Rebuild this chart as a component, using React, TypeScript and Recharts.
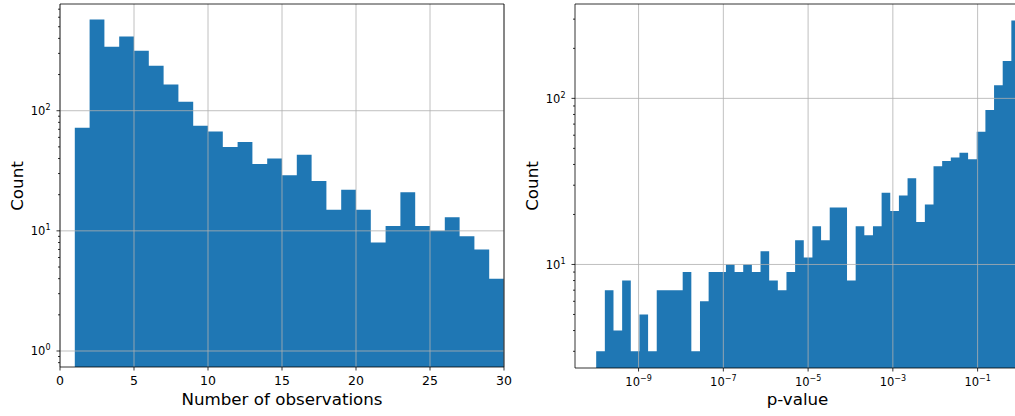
import { ComposedChart, Area, XAxis, YAxis, CartesianGrid, ReferenceArea } from "recharts";

const FONT = "'DejaVu Sans', sans-serif";
const BLUE = "#1f77b4";
const GRID = "#b0b0b0";

// left panel: number of observations, unit-width bins from 1 to 30
const obsEdges = [1, 2, 3, 4, 5, 6, 7, 8, 9, 10, 11, 12, 13, 14, 15, 16, 17, 18, 19, 20, 21, 22, 23, 24, 25, 26, 27, 28, 29, 30];
const obsCounts = [72, 573, 341, 414, 316, 237, 165, 119, 75, 67, 50, 55, 36, 40, 29, 43, 26, 15, 22, 15, 8, 11, 21, 11, 10, 13, 9, 7, 4];
const obsXTicks = [0, 5, 10, 15, 20, 25, 30];
const obsYTicks = [0.8, 0.9, 1, 2, 3, 4, 5, 6, 7, 8, 9, 10, 20, 30, 40, 50, 60, 70, 80, 90, 100, 200, 300, 400, 500, 600, 700];
const obsYDomain = [0.736, 773];

// right panel: p-values, 49 log-spaced bins between 1e-10 and 1
const pCounts = [3, 7, 4, 8, 3, 5, 3, 7, 7, 7, 9, 3, 6, 9, 9, 10, 9, 10, 9, 12, 8, 7, 9, 14, 11, 17, 14, 22, 22, 8, 17, 15, 17, 27, 21, 26, 33, 18, 23, 39, 42, 44, 47, 43, 63, 85, 120, 168, 294];
const pEdges = Array.from({ length: pCounts.length + 1 }, (_, i) => Math.pow(10, -10 + (10 * i) / pCounts.length));
const pXTicks = [1e-9, 1e-7, 1e-5, 1e-3, 1e-1];
const pYTicks = [3, 4, 5, 6, 7, 8, 9, 10, 20, 30, 40, 50, 60, 70, 80, 90, 100, 200, 300];
const pYDomain = [2.38, 370];
const pXDomain = [Math.pow(10, -10.5), 1];

const obsData = obsEdges.map((x, i) => ({ x, count: obsCounts[Math.min(i, obsCounts.length - 1)] }));
const pData = pEdges.map((x, i) => ({ x, count: pCounts[Math.min(i, pCounts.length - 1)] }));

const isDecade = (v: number) => {
  const e = Math.round(Math.log10(v));
  return Math.abs(v - Math.pow(10, e)) < 1e-6 * v;
};
const expLabel = (v: number) => {
  const e = Math.round(Math.log10(v));
  return e < 0 ? `\u2212${-e}` : `${e}`;
};

const LogYTick = (props: any) => {
  const { x, y, payload } = props;
  const v = payload.value;
  const major = isDecade(v);
  return (
    <g>
      <line x1={x - (major ? 3.5 : 2)} x2={x} y1={y} y2={y} stroke="#000" strokeWidth={0.8} />
      {major && (
        <text x={x - 9.5} y={y + 4.3} textAnchor="end" fontSize={11.5} fontFamily={FONT} fill="#000">
          10<tspan dy={-5} fontSize={8}>{expLabel(v)}</tspan>
        </text>
      )}
    </g>
  );
};

const LinXTick = (props: any) => {
  const { x, y, payload } = props;
  return (
    <g>
      <line x1={x} x2={x} y1={y} y2={y + 3.5} stroke="#000" strokeWidth={0.8} />
      <text x={x} y={y + 18.3} textAnchor="middle" fontSize={12.5} fontFamily={FONT} fill="#000">
        {payload.value}
      </text>
    </g>
  );
};

const LogXTick = (props: any) => {
  const { x, y, payload } = props;
  return (
    <g>
      <line x1={x} x2={x} y1={y} y2={y + 3.5} stroke="#000" strokeWidth={0.8} />
      <text x={x} y={y + 17.8} textAnchor="middle" fontSize={11.5} fontFamily={FONT} fill="#000">
        10<tspan dy={-5} fontSize={8}>{expLabel(payload.value)}</tspan>
      </text>
    </g>
  );
};

function ObsPanel() {
  return (
    <ComposedChart width={515} height={416} data={obsData} margin={{ top: 4, right: 11, bottom: 0, left: 0 }}>
      <XAxis
        dataKey="x" type="number" domain={[0, 30]} ticks={obsXTicks} interval={0}
        height={49} axisLine={false} tickLine={false} tickSize={0} tickMargin={0} tick={LinXTick}
      />
      <YAxis
        type="number" scale="log" domain={obsYDomain} allowDataOverflow ticks={obsYTicks} interval={0}
        width={60} axisLine={false} tickLine={false} tickSize={0} tickMargin={0} tick={LogYTick}
      />
      <Area
        type="stepAfter" dataKey="count" stroke="none" fill={BLUE} fillOpacity={1}
        baseValue={obsYDomain[0]} isAnimationActive={false} dot={false} activeDot={false}
      />
      <CartesianGrid
        stroke={GRID} strokeWidth={0.8} verticalValues={obsXTicks} horizontalValues={[1, 10, 100]}
        zIndex={150}
      />
      <ReferenceArea
        x1={0} x2={30} y1={obsYDomain[0]} y2={obsYDomain[1]} fill="none" stroke="#000"
        strokeWidth={0.8} fillOpacity={0} strokeOpacity={1} ifOverflow="visible" zIndex={160}
      />
    </ComposedChart>
  );
}

function PValuePanel() {
  return (
    <ComposedChart width={505} height={416} data={pData} margin={{ top: 4, right: 0, bottom: 0, left: 0 }}>
      <XAxis
        dataKey="x" type="number" scale="log" domain={pXDomain} allowDataOverflow ticks={pXTicks} interval={0}
        height={48} axisLine={false} tickLine={false} tickSize={0} tickMargin={0} tick={LogXTick}
      />
      <YAxis
        type="number" scale="log" domain={pYDomain} allowDataOverflow ticks={pYTicks} interval={0}
        width={60} axisLine={false} tickLine={false} tickSize={0} tickMargin={0} tick={LogYTick}
      />
      <Area
        type="stepAfter" dataKey="count" stroke="none" fill={BLUE} fillOpacity={1}
        baseValue={pYDomain[0]} isAnimationActive={false} dot={false} activeDot={false}
      />
      <CartesianGrid
        stroke={GRID} strokeWidth={0.8} verticalValues={pXTicks} horizontalValues={[10, 100]}
        zIndex={150}
      />
      <ReferenceArea
        x1={pXDomain[0]} x2={pXDomain[1]} y1={pYDomain[0]} y2={pYDomain[1]} fill="none" stroke="#000"
        strokeWidth={0.8} fillOpacity={0} strokeOpacity={1} ifOverflow="visible" zIndex={160}
      />
    </ComposedChart>
  );
}

export default function App() {
  return (
    <div style={{ position: "absolute", left: 0, top: 0, width: 1015, height: 416, overflow: "hidden", background: "#fff" }}>
      <div style={{ position: "absolute", left: 515, top: 0 }}>
        <PValuePanel />
      </div>
      <div style={{ position: "absolute", left: 0, top: 0 }}>
        <ObsPanel />
      </div>
      <svg width={1015} height={416} style={{ position: "absolute", left: 0, top: 0, pointerEvents: "none" }}>
        <g fontFamily={FONT} fontSize={16.7} fill="#000">
          <text x={282} y={405} textAnchor="middle">Number of observations</text>
          <text x={797.5} y={405} textAnchor="middle">p-value</text>
          <text transform="translate(22.5,186) rotate(-90)" textAnchor="middle">Count</text>
          <text transform="translate(537.5,186) rotate(-90)" textAnchor="middle">Count</text>
        </g>
      </svg>
    </div>
  );
}
